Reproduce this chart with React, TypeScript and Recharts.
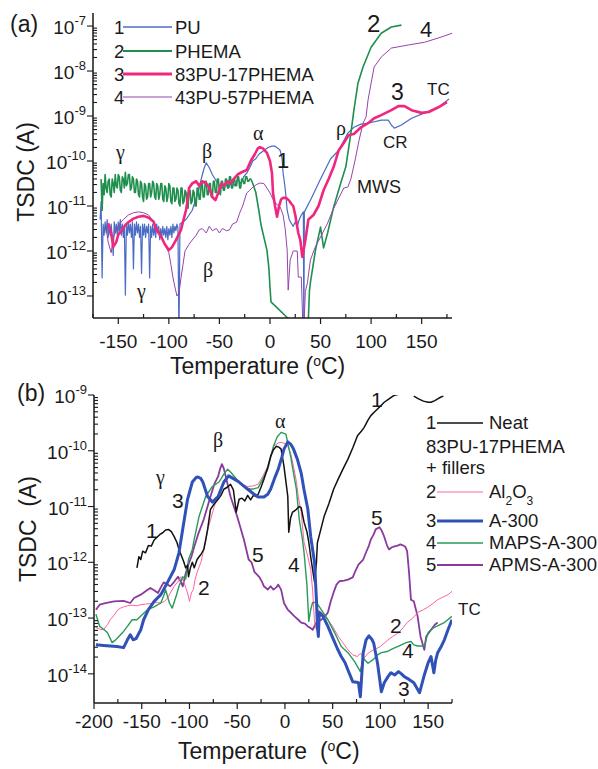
import React from 'react';
import { LineChart, Line, XAxis, YAxis } from 'recharts';

type Pt = [number, number | null];

// values are [temperature °C, log10 of TSDC current in A]

// ---- panel (a) ----
const puA: Pt[] = [
  [-168, -11.3], [-167, -10.9], [-166, -12.6], [-165, -11.4], [-164, -11.65], [-163, -11.35], [-162, -11.6],
  [-161, -11.3], [-160, -11.7], [-159, -11.45], [-158, -11.65], [-157, -11.4], [-156, -11.7], [-155, -12.1],
  [-154, -11.35], [-153, -11.6], [-152, -11.4], [-151, -11.65], [-150, -11.35], [-149, -11.6], [-148, -11.3],
  [-147, -11.65], [-146, -11.4], [-145, -11.7], [-144, -11.45], [-143, -12.98], [-142, -11.4], [-141, -11.65],
  [-140, -11.35], [-139, -11.6], [-138, -11.4], [-137, -11.7], [-136, -11.35], [-135, -12.4], [-134, -11.4],
  [-133, -11.65], [-132, -11.35], [-131, -11.6], [-130, -11.4], [-129, -11.7], [-128, -11.45], [-127, -12.5],
  [-126, -11.4], [-125, -11.65], [-124, -11.4], [-123, -11.7], [-122, -11.45], [-121, -11.6], [-120, -11.4],
  [-119, -12.6], [-118, -11.45], [-117, -11.7], [-116, -11.4], [-115, -11.65], [-114, -11.45], [-113, -11.7],
  [-112, -11.4], [-111, -11.6], [-110, -11.45], [-109, -11.75], [-108, -11.5], [-107, -11.7], [-106, -11.45],
  [-105, -11.65], [-104, -11.5], [-103, -11.7], [-102, -11.45], [-101, -11.75], [-100, -11.5], [-99, -11.65],
  [-98, -11.45], [-97, -11.7], [-96, -11.4], [-95, -11.6], [-94, -11.45], [-93, -11.55], [-92, -11.4],
  [-91, -11.5], [-90, -14], [-89, -11.4], [-86, -11.35], [-83, -11.3], [-80, -11.2], [-77, -11.1], [-74, -10.9],
  [-71, -10.7], [-68, -10.4], [-65, -10.15], [-63, -10.04], [-60, -10.15], [-57, -10.3], [-53, -10.45],
  [-50, -10.55], [-47, -10.6], [-44, -10.5], [-41, -10.6], [-38, -10.45], [-35, -10.55], [-32, -10.4],
  [-29, -10.5], [-26, -10.35], [-23, -10.27], [-20, -10.15], [-17, -10.0], [-14, -9.95], [-11, -9.85],
  [-8, -9.8], [-5, -9.75], [-2, -9.7], [2, -9.67], [5, -9.67], [8, -9.72], [10, -9.76], [12, -9.95],
  [13, -10.27], [15, -10.6], [17, -11.09], [19, -11.3], [21, -11.38], [23, -11.45], [25, -11.35], [27, -11.45],
  [29, -11.3], [31, -11.2], [33, -11.13], [33.5, -14], [34, -11.13], [40, -10.87], [50, -10.4], [60, -9.95],
  [68, -9.76], [77, -9.38], [83, -9.25], [90, -9.18], [97, -9.16], [110, -9.09], [117, -9.09], [120, -9.2],
  [123, -9.27], [130, -9.2], [140, -9.05], [153, -8.93], [167, -8.8], [177, -8.62],
];

const phemaA: Pt[] = [
  [-167, -10.4], [-166, -11.1], [-165, -10.5], [-164, -10.75], [-163, -10.3], [-162, -10.6], [-161, -10.7],
  [-160, -10.45], [-159, -10.4], [-158, -10.75], [-157, -10.8], [-156, -10.4], [-155, -10.5], [-154, -10.7],
  [-153, -10.3], [-152, -10.55], [-151, -10.6], [-150, -10.3], [-149, -10.35], [-148, -10.65], [-147, -10.7],
  [-146, -10.35], [-145, -10.4], [-144, -10.6], [-143, -10.25], [-142, -10.55], [-141, -10.5], [-140, -10.3],
  [-139, -10.3], [-138, -10.65], [-137, -10.6], [-136, -10.35], [-135, -10.4], [-134, -10.7], [-133, -10.7],
  [-132, -10.4], [-131, -10.45], [-130, -10.75], [-129, -10.8], [-128, -10.45], [-127, -10.5], [-126, -10.8],
  [-125, -10.9], [-124, -10.5], [-123, -10.55], [-122, -10.85], [-121, -10.8], [-120, -10.5], [-119, -10.5],
  [-118, -10.8], [-117, -10.7], [-116, -10.45], [-115, -10.5], [-114, -10.8], [-113, -10.85], [-112, -10.5],
  [-111, -10.55], [-110, -10.85], [-109, -10.75], [-108, -10.5], [-107, -10.5], [-106, -10.85], [-105, -10.9],
  [-104, -10.55], [-103, -10.6], [-102, -10.9], [-101, -10.8], [-100, -10.5], [-99, -10.55], [-98, -10.9],
  [-97, -10.95], [-96, -10.6], [-95, -10.6], [-94, -10.9], [-93, -10.85], [-92, -10.6], [-91, -10.65],
  [-90, -10.95], [-89, -11.0], [-88, -10.6], [-87, -10.6], [-86, -10.95], [-85, -10.9], [-84, -10.65],
  [-83, -10.7], [-82, -11.0], [-81, -11.05], [-80, -10.65], [-79, -10.65], [-78, -10.95], [-77, -10.9],
  [-76, -10.65], [-75, -10.7], [-74, -11.0], [-73, -11.0], [-72, -10.6], [-71, -10.6], [-70, -10.85],
  [-69, -10.85], [-68, -10.5], [-67, -10.5], [-66, -10.8], [-65, -10.8], [-64, -10.45], [-63, -10.45],
  [-62, -10.75], [-61, -10.75], [-60, -10.5], [-59, -10.5], [-58, -10.8], [-57, -10.8], [-56, -10.45],
  [-55, -10.45], [-54, -10.7], [-53, -10.7], [-52, -10.4], [-51, -10.4], [-50, -10.7], [-49, -10.75],
  [-48, -10.45], [-47, -10.45], [-46, -10.65], [-45, -10.65], [-44, -10.4], [-43, -10.4], [-42, -10.6],
  [-41, -10.6], [-40, -10.35], [-39, -10.35], [-38, -10.6], [-37, -10.6], [-36, -10.4], [-35, -10.4],
  [-34, -10.55], [-33, -10.55], [-32, -10.35], [-31, -10.35], [-30, -10.6], [-29, -10.6], [-28, -10.4],
  [-27, -10.4], [-26, -10.5], [-25, -10.5], [-24, -10.35], [-23, -10.35], [-22, -10.45], [-21, -10.45],
  [-20, -10.4], [-19, -10.4], [-17, -10.5], [-14, -10.7], [-11, -11.1], [-9, -11.4], [-7, -11.6], [-3, -11.98],
  [-1, -12.4], [0, -12.8], [1, -13.13], [18, -13.5], [19, -14], [37, -14], [38, -13.5], [39, -12.9], [40, -12.7],
  [45, -11.98], [50, -11.47], [53, -11.93], [57, -11.6], [63, -11.02], [70, -10.49], [75, -10.13], [80, -9.38],
  [83, -8.87], [87, -8.27], [92, -7.91], [100, -7.47], [110, -7.16], [120, -7.02], [130, -6.98],
];

const blend83A: Pt[] = [
  [-160, -11.38], [-157, -11.6], [-155, -11.91], [-152, -11.8], [-150, -11.64], [-147, -11.55], [-143, -11.42],
  [-140, -11.36], [-135, -11.28], [-130, -11.24], [-125, -11.22], [-120, -11.26], [-115, -11.35], [-113, -11.5],
  [-110, -11.6], [-107, -11.71], [-104, -11.85], [-100, -11.98], [-97, -11.92], [-93, -11.76], [-88, -11.53],
  [-83, -11.09], [-82, -10.95], [-80, -10.6], [-77, -10.5], [-73, -10.45], [-70, -10.55], [-67, -10.45],
  [-63, -10.5], [-60, -10.6], [-57, -10.8], [-54, -10.87], [-51, -10.7], [-48, -10.5], [-45, -10.55],
  [-42, -10.45], [-39, -10.5], [-36, -10.4], [-32, -10.3], [-28, -10.25], [-23, -10.2], [-19, -10.0],
  [-15, -9.85], [-12, -9.72], [-10, -9.69], [-7, -9.72], [-3, -9.82], [0, -10.0], [2, -10.27], [3, -10.71],
  [5, -11.0], [7, -11.24], [9, -11.0], [11, -10.85], [13, -10.82], [16, -10.82], [19, -10.88], [21, -10.95],
  [23, -11.0], [25, -11.2], [28, -11.6], [30, -11.76], [32, -12.13], [35, -11.76], [38, -11.3], [43, -11.2],
  [48, -11.0], [53, -10.65], [58, -10.4], [63, -10.13], [68, -9.76], [73, -9.6], [78, -9.42], [83, -9.4],
  [90, -9.25], [97, -9.16], [103, -9.05], [110, -8.98], [120, -8.87], [127, -8.78], [133, -8.78], [140, -8.87],
  [150, -8.93], [157, -8.91], [167, -8.8], [175, -8.69],
];

const blend43A: Pt[] = [
  [-162, -11.5], [-160, -11.8], [-157, -12.04], [-155, -11.7], [-152, -11.55], [-149, -11.4], [-145, -11.3],
  [-140, -11.2], [-135, -11.15], [-130, -11.13], [-125, -11.15], [-120, -11.2], [-115, -11.35], [-110, -11.55],
  [-106, -11.75], [-103, -11.9], [-100, -12.04], [-98, -12.3], [-96, -12.58], [-94, -12.8], [-92, -13.0],
  [-90, -12.93], [-88, -12.6], [-86, -12.3], [-84, -12.0], [-80, -11.85], [-77, -11.76], [-73, -11.65],
  [-70, -11.53], [-67, -11.5], [-63, -11.6], [-60, -11.45], [-57, -11.55], [-53, -11.5], [-50, -11.6],
  [-47, -11.5], [-43, -11.55], [-40, -11.53], [-37, -11.4], [-33, -11.36], [-30, -11.16], [-27, -11.0],
  [-23, -10.71], [-20, -10.65], [-17, -10.58], [-13, -10.52], [-10, -10.49], [-6, -10.5], [-3, -10.6],
  [0, -10.71], [3, -10.85], [6, -10.95], [10, -11.02], [13, -11.2], [15, -11.5], [17, -11.98], [18, -12.87],
  [20, -12.2], [23, -12.0], [27, -12.0], [28, -12.58], [31, -12.58], [33, -14], [35, -12.9], [37, -12.71],
  [40, -12.2], [45, -11.9], [50, -11.69], [57, -11.38], [62, -11.1], [67, -10.87], [73, -10.6], [77, -10.58],
  [80, -10.4], [84, -10.0], [88, -9.55], [92, -9.16], [95, -9.02], [97, -8.64], [100, -8.27], [103, -7.91],
  [110, -7.69], [120, -7.49], [137, -7.42], [153, -7.36], [170, -7.24], [180, -7.16],
];

// ---- panel (b) ----
const neatB: Pt[] = [
  [-155, -12.1], [-153, -11.9], [-151, -11.95], [-149, -11.8], [-146, -11.83], [-143, -11.7], [-140, -11.71],
  [-137, -11.6], [-134, -11.55], [-131, -11.5], [-128, -11.47], [-125, -11.42], [-122, -11.41], [-119, -11.45],
  [-116, -11.54], [-113, -11.65], [-111, -11.77], [-108, -11.9], [-106, -11.99], [-104, -12.1], [-102, -12.05],
  [-101, -12.26], [-99, -12.1], [-97, -12.0], [-95, -12.1], [-92, -11.95], [-90, -11.9], [-88, -11.86],
  [-85, -11.77], [-83, -11.6], [-81, -11.41], [-78, -11.05], [-74, -10.95], [-70, -10.87], [-67, -10.8],
  [-64, -10.69], [-60, -10.65], [-57, -10.6], [-54, -10.7], [-51, -11.1], [-48, -10.87], [-45, -10.85],
  [-42, -10.9], [-39, -10.8], [-36, -10.88], [-33, -10.8], [-30, -10.82], [-28, -10.78], [-25, -10.65],
  [-22, -10.51], [-18, -10.3], [-15, -10.1], [-12, -9.98], [-9, -9.92], [-6, -9.94], [-4, -9.97], [-1, -10.28],
  [1, -10.55], [3, -10.82], [4, -11.46], [6, -11.2], [8, -11.1], [10, -11.08], [12, -11.05], [15, -11.0],
  [17, -11.02], [20, -11.28], [23, -11.45], [25, -11.64], [27, -11.9], [29, -12.13], [31, -12.35], [33, -12.0],
  [34, -11.65], [37, -11.45], [41, -11.18], [46, -10.95], [51, -10.69], [56, -10.5], [61, -10.32], [66, -10.15],
  [71, -9.95], [76, -9.73], [80, -9.65], [83, -9.58], [87, -9.45], [90, -9.37], [94, -9.3], [97, -9.25],
  [100, -9.2], [104, -9.13], [109, -9.07], [114, -9.01], [118, -8.99], [121, -8.98], [125, -8.98], [130, null],
  [135, -9.02], [140, -9.07], [145, -9.11], [150, -9.13], [153, -9.13], [157, -9.1], [160, -9.07], [163, -9.04],
  [166, -9.02],
];

const al2o3B: Pt[] = [
  [-198, -13.17], [-194, -13.2], [-190, -13.21], [-186, -13.12], [-183, -13.03], [-179, -12.95], [-175, -12.85],
  [-172, -12.82], [-169, -12.8], [-165, -12.78], [-160, -12.77], [-155, -12.78], [-151, -12.76], [-146, -12.75],
  [-141, -12.74], [-136, -12.72], [-130, -12.73], [-126, -12.7], [-123, -12.64], [-120, -12.55], [-116, -12.43],
  [-112, -12.35], [-109, -12.26], [-106, -12.35], [-104, -12.45], [-102, -12.55], [-100, -12.7], [-98, -12.55],
  [-96, -12.49], [-94, -12.3], [-92, -12.18], [-88, -12.0], [-85, -11.77], [-80, -11.36], [-74, -11.0],
  [-67, -10.69], [-60, -10.46], [-53, -10.51], [-46, -10.6], [-39, -10.64], [-33, -10.63], [-28, -10.6],
  [-23, -10.45], [-18, -10.28], [-12, -9.92], [-7, -9.86], [-4, -9.85], [0, -9.87], [3, -9.92], [6, -10.05],
  [9, -10.28], [12, -10.55], [14, -10.82], [17, -11.1], [20, -11.64], [24, -11.9], [27, -12.13], [29, -12.5],
  [31, -13.08], [33, -13.21], [35, -12.85], [38, -12.9], [41, -12.95], [45, -13.03], [50, -13.15], [56, -13.33],
  [61, -13.45], [66, -13.57], [71, -13.66], [76, -13.69], [79, -13.63], [83, -13.72], [86, -13.65], [88, -13.62],
  [93, -13.57], [100, -13.51], [108, -13.39], [113, -13.33], [119, -13.26], [124, -13.17], [128, -13.08],
  [134, -13.0], [139, -12.9], [145, -12.85], [150, -12.8], [155, -12.74], [160, -12.67], [166, -12.62],
  [171, -12.58], [175, -12.52],
];

const a300B: Pt[] = [
  [-198, -13.48], [-190, -13.49], [-183, -13.5], [-176, -13.51], [-169, -13.53], [-165, -13.39], [-162, -13.3],
  [-159, -13.39], [-156, -13.37], [-151, -13.21], [-148, -13.03], [-143, -12.85], [-137, -12.7], [-130, -12.58],
  [-123, -12.36], [-116, -12.13], [-111, -11.83], [-107, -11.4], [-102, -10.87], [-97, -10.56], [-93, -10.48],
  [-91, -10.47], [-88, -10.5], [-86, -10.56], [-81, -10.82], [-76, -10.92], [-70, -10.82], [-64, -10.56],
  [-59, -10.45], [-54, -10.5], [-49, -10.55], [-44, -10.62], [-39, -10.69], [-33, -10.77], [-28, -10.83],
  [-22, -10.83], [-18, -10.78], [-15, -10.69], [-11, -10.5], [-7, -10.33], [-3, -10.1], [-1, -9.97], [3, -9.84],
  [6, -9.88], [9, -9.97], [13, -10.15], [17, -10.4], [20, -10.7], [24, -11.05], [27, -11.54], [31, -12.0],
  [33, -12.67], [34, -13.15], [35, -13.33], [36, -12.9], [40, -12.97], [45, -13.15], [51, -13.39], [55, -13.55],
  [59, -13.69], [63, -13.8], [66, -13.93], [71, -14.14], [75, -14.15], [77, -14.16], [79, -14.41], [82, -13.62],
  [85, -13.39], [88, -13.32], [91, -13.38], [93, -13.45], [97, -13.81], [101, -14.32], [104, -14.16],
  [108, -14.05], [111, -13.98], [115, -14.02], [119, -13.96], [122, -14.0], [125, -14.05], [130, -14.1],
  [135, -14.16], [138, -14.25], [141, -14.34], [146, -14.02], [150, -13.8], [153, -13.69], [156, -13.98],
  [158, -13.75], [160, -13.62], [164, -13.5], [167, -13.39], [171, -13.2], [175, -13.03],
];

const mapsB: Pt[] = [
  [-198, -12.93], [-194, -13.15], [-190, -13.2], [-186, -13.26], [-181, -13.44], [-178, -13.4], [-175, -13.35],
  [-170, -13.26], [-165, -13.15], [-160, -13.03], [-155, -13.03], [-152, -12.98], [-149, -12.93], [-144, -12.85],
  [-137, -12.8], [-130, -12.73], [-127, -12.6], [-125, -12.49], [-121, -12.73], [-118, -12.82], [-114, -12.61],
  [-111, -12.43], [-107, -12.26], [-104, -12.3], [-101, -11.95], [-97, -11.77], [-95, -11.59], [-90, -11.18],
  [-83, -10.82], [-76, -10.64], [-69, -10.56], [-64, -10.42], [-60, -10.33], [-57, -10.38], [-53, -10.46],
  [-46, -10.6], [-41, -10.66], [-36, -10.69], [-32, -10.68], [-28, -10.66], [-23, -10.5], [-18, -10.33],
  [-12, -9.92], [-8, -9.75], [-4, -9.67], [1, -9.7], [6, -10.1], [9, -10.4], [12, -10.69], [15, -11.23],
  [18, -11.55], [20, -11.82], [23, -12.4], [25, -13.06], [27, -12.85], [29, -12.72], [33, -12.72], [38, -12.85],
  [45, -13.03], [52, -13.26], [59, -13.51], [66, -13.62], [73, -13.78], [79, -13.96], [82, -13.72], [87, -13.81],
  [92, -13.75], [97, -13.66], [101, -13.62], [107, -13.6], [113, -13.55], [118, -13.51], [127, -13.44],
  [132, -13.42], [135, -13.48], [139, -13.5], [146, -13.5], [150, -13.26], [156, -13.17], [162, -13.12],
  [167, -13.08], [175, -12.97],
];

const apmsB: Pt[] = [
  [-198, -12.85], [-194, -12.76], [-188, -12.73], [-179, -12.7], [-169, -12.69], [-162, -12.73], [-158, -12.64],
  [-151, -12.58], [-146, -12.52], [-141, -12.46], [-137, -12.5], [-133, -12.55], [-130, -12.45], [-127, -12.36],
  [-123, -12.4], [-120, -12.43], [-116, -12.35], [-112, -12.26], [-109, -12.35], [-107, -12.43], [-104, -12.2],
  [-102, -12.08], [-98, -11.9], [-95, -11.72], [-91, -11.5], [-85, -11.23], [-78, -10.82], [-74, -10.6],
  [-70, -10.46], [-68, -10.33], [-66, -10.24], [-64, -10.32], [-62, -10.46], [-57, -10.82], [-50, -11.18],
  [-43, -11.59], [-38, -11.95], [-35, -12.0], [-32, -12.17], [-27, -12.26], [-24, -12.35], [-22, -12.43],
  [-18, -12.49], [-15, -12.43], [-12, -12.49], [-9, -12.45], [-7, -12.4], [-4, -12.49], [-1, -12.73],
  [3, -12.85], [6, -12.9], [10, -12.97], [14, -13.03], [17, -13.08], [21, -13.1], [24, -13.15], [27, -13.18],
  [29, -13.21], [33, -13.08], [38, -13.03], [42, -12.97], [45, -12.9], [48, -12.7], [51, -12.54], [54, -12.4],
  [57, -12.34], [62, -12.33], [66, -12.31], [71, -12.27], [74, -12.15], [77, -12.04], [82, -11.95], [85, -11.82],
  [88, -11.7], [90, -11.59], [93, -11.5], [95, -11.41], [99, -11.37], [101, -11.42], [104, -11.54], [107, -11.7],
  [109, -11.77], [112, -11.73], [114, -11.72], [118, -11.7], [121, -11.68], [124, -11.7], [126, -11.72],
  [128, -11.8], [130, -12.18], [132, -12.67], [135, -12.7], [139, -12.97], [142, -13.33], [146, -13.57],
  [148, -13.33], [153, -13.21], [157, -13.12], [160, -13.08],
];

const xTicksA = [-175, -150, -125, -100, -75, -50, -25, 0, 25, 50, 75, 100, 125, 150, 175];
const xTicksB = [-200, -175, -150, -125, -100, -75, -50, -25, 0, 25, 50, 75, 100, 125, 150, 175];
const decadesA = [-13, -12, -11, -10, -9, -8, -7];
const decadesB = [-14, -13, -12, -11, -10, -9];

const INK = '#1a1a1a';
const SANS = '"Liberation Sans", Arial, sans-serif';
const SERIF = '"Liberation Serif", "Times New Roman", serif';

const C = {
  pu: '#4a6cc4',
  phema: '#1f8f4e',
  b83: '#f0287d',
  b43: '#9544ad',
  neat: '#111111',
  al: '#ff62a2',
  a300: '#3052b8',
  maps: '#2a9a58',
  apms: '#8a3a9e',
};

const toRows = (pts: Pt[]) => pts.map(([T, lg]) => ({ T, I: lg === null ? null : Math.pow(10, lg) }));

const logTicks = (decs: number[], lo: number, hi: number) => {
  const out: number[] = [];
  decs.forEach((d) => {
    for (let m = 1; m < 10; m++) {
      const v = m * Math.pow(10, d);
      if (v >= lo && v <= hi) out.push(v);
    }
  });
  return out;
};

const XTick = (props: any) => {
  const { x, y, payload, off } = props;
  const major = payload.value % 50 === 0;
  return (
    <g>
      <line x1={x} x2={x} y1={y} y2={major ? y + 6 : y - 4} stroke={INK} strokeWidth={1.2} />
      {major && (
        <text x={x} y={y + off} textAnchor="middle" fontSize={19} fill={INK} fontFamily={SANS}>
          {payload.value}
        </text>
      )}
    </g>
  );
};

const YTick = (props: any) => {
  const { x, y, payload } = props;
  const lg = Math.log10(payload.value);
  const major = Math.abs(lg - Math.round(lg)) < 1e-6;
  return (
    <g>
      <line x1={major ? x - 6 : x} x2={major ? x : x + 4} y1={y} y2={y} stroke={INK} strokeWidth={1.1} />
      {major && (
        <text x={x - 7} y={y + 8} textAnchor="end" fontSize={19} fill={INK} fontFamily={SANS}>
          10<tspan dy={-9} fontSize={13}>{Math.round(lg)}</tspan>
        </text>
      )}
    </g>
  );
};

const axisLine = { stroke: INK, strokeWidth: 1.5 };

const domA: [number, number] = [3.24e-14, 1.95e-7];
const domB: [number, number] = [3.0e-15, 1e-9];

const seriesA = [
  { pts: puA, color: C.pu, w: 1.2 },
  { pts: phemaA, color: C.phema, w: 1.6 },
  { pts: blend43A, color: C.b43, w: 1 },
  { pts: blend83A, color: C.b83, w: 2.6 },
];

const seriesB = [
  { pts: apmsB, color: C.apms, w: 1.8 },
  { pts: al2o3B, color: C.al, w: 1 },
  { pts: mapsB, color: C.maps, w: 1.4 },
  { pts: neatB, color: C.neat, w: 1.5 },
  { pts: a300B, color: C.a300, w: 3 },
];

const Panel = ({ series, xDom, xTicks, yDom, decades, top, height, mTop, xH, yW, off }: any) => (
  <div style={{ position: 'absolute', left: 0, top }}>
    <LineChart width={598} height={height} margin={{ top: mTop, right: 146, bottom: 0, left: 0 }}>
      <XAxis
        type="number"
        dataKey="T"
        domain={xDom}
        ticks={xTicks}
        interval={0}
        allowDataOverflow
        tickLine={false}
        tickSize={0}
        tickMargin={0}
        height={xH}
        axisLine={axisLine}
        tick={(p: any) => <XTick {...p} off={off} />}
      />
      <YAxis
        type="number"
        scale="log"
        domain={yDom}
        ticks={logTicks(decades, yDom[0], yDom[1])}
        interval={0}
        allowDataOverflow
        tickLine={false}
        tickSize={0}
        tickMargin={0}
        width={yW}
        axisLine={axisLine}
        tick={(p: any) => <YTick {...p} />}
      />
      {series.map((s: any, i: number) => (
        <Line
          key={i}
          data={toRows(s.pts)}
          dataKey="I"
          stroke={s.color}
          strokeWidth={s.w}
          dot={false}
          activeDot={false}
          isAnimationActive={false}
          connectNulls={false}
          strokeLinejoin="round"
        />
      ))}
    </LineChart>
  </div>
);

const legendA = [
  { n: '1', label: 'PU', color: C.pu, w: 1.3, y: 27 },
  { n: '2', label: 'PHEMA', color: C.phema, w: 1.8, y: 51 },
  { n: '3', label: '83PU-17PHEMA', color: C.b83, w: 3, y: 74 },
  { n: '4', label: '43PU-57PHEMA', color: C.b43, w: 1, y: 97 },
];

const legendB = [
  { n: '1', label: 'Neat', color: C.neat, w: 1.5, y: 423 },
  { n: '2', label: 'Al2O3', color: C.al, w: 1, y: 492 },
  { n: '3', label: 'A-300', color: C.a300, w: 3, y: 521 },
  { n: '4', label: 'MAPS-A-300', color: C.maps, w: 1.4, y: 543 },
  { n: '5', label: 'APMS-A-300', color: C.apms, w: 1.8, y: 565 },
];

const T = ({ x, y, s = 21, serif = false, children }: any) => (
  <text x={x} y={y} fontSize={s} fill={INK} fontFamily={serif ? SERIF : SANS}>
    {children}
  </text>
);

const Overlay = () => (
  <svg width={598} height={769} style={{ position: 'absolute', left: 0, top: 0, pointerEvents: 'none' }}>
    {/* panel labels and axis titles */}
    <T x={10} y={32} s={23}>(a)</T>
    <T x={17} y={401} s={23}>(b)</T>
    <text x={170} y={374} fontSize={23} fill={INK} fontFamily={SANS}>
      Temperature (<tspan dy={-8} fontSize={14}>o</tspan><tspan dy={8}>C)</tspan>
    </text>
    <text x={178} y={759} fontSize={23} fill={INK} fontFamily={SANS} style={{ whiteSpace: 'pre' }}>
      Temperature  (<tspan dy={-8} fontSize={14}>o</tspan><tspan dy={8}>C)</tspan>
    </text>
    <text x={34} y={172} fontSize={23} fill={INK} fontFamily={SANS} textAnchor="middle" transform="rotate(-90 34 172)">
      TSDC (A)
    </text>
    <text x={36} y={529} fontSize={23} fill={INK} fontFamily={SANS} textAnchor="middle" transform="rotate(-90 36 529)" style={{ whiteSpace: 'pre' }}>
      TSDC  (A)
    </text>

    {/* legend (a) */}
    {legendA.map((e) => (
      <g key={e.n}>
        <T x={114} y={e.y + 7} s={18.5}>{e.n}</T>
        <line x1={123} x2={172} y1={e.y} y2={e.y} stroke={e.color} strokeWidth={e.w} />
        <T x={175} y={e.y + 7} s={18.5}>{e.label}</T>
      </g>
    ))}

    {/* annotations (a) */}
    <T x={116} y={159} s={20} serif>γ</T>
    <T x={202} y={158} s={20} serif>β</T>
    <T x={253} y={140} s={20} serif>α</T>
    <T x={277} y={168} s={22}>1</T>
    <T x={336} y={135} s={20} serif>ρ</T>
    <T x={367} y={32} s={24}>2</T>
    <T x={420} y={37} s={22}>4</T>
    <T x={391} y={100} s={23}>3</T>
    <T x={427} y={95} s={17}>TC</T>
    <T x={383} y={148} s={17}>CR</T>
    <T x={357} y={193} s={18}>MWS</T>
    <T x={203} y={277} s={20} serif>β</T>
    <T x={137} y={298} s={20} serif>γ</T>

    {/* legend (b) */}
    {legendB.map((e) => (
      <g key={e.n}>
        <T x={426} y={e.y + 6} s={18.5}>{e.n}</T>
        <line x1={437} x2={483} y1={e.y} y2={e.y} stroke={e.color} strokeWidth={e.w} />
        {e.label === 'Al2O3' ? (
          <text x={489} y={e.y + 6} fontSize={18.5} fill={INK} fontFamily={SANS}>
            Al<tspan dy={7} fontSize={12}>2</tspan><tspan dy={-7}>O</tspan><tspan dy={7} fontSize={12}>3</tspan>
          </text>
        ) : (
          <T x={489} y={e.y + 6} s={18.5}>{e.label}</T>
        )}
      </g>
    ))}
    <T x={426} y={453} s={18.5}>83PU-17PHEMA</T>
    <T x={426} y={474} s={18.5}>+ fillers</T>

    {/* annotations (b) */}
    <T x={156} y={484} s={20} serif>γ</T>
    <T x={172} y={508} s={21}>3</T>
    <T x={213} y={447} s={20} serif>β</T>
    <T x={275} y={428} s={20} serif>α</T>
    <T x={146} y={538} s={21}>1</T>
    <T x={252} y={562} s={21}>5</T>
    <T x={288} y={572} s={21}>4</T>
    <T x={198} y={595} s={21}>2</T>
    <T x={371} y={407} s={21}>1</T>
    <T x={371} y={525} s={21}>5</T>
    <T x={458} y={615} s={17}>TC</T>
    <T x={390} y={633} s={21}>2</T>
    <T x={402} y={658} s={21}>4</T>
    <T x={398} y={696} s={21}>3</T>
  </svg>
);

export default function App() {
  return (
    <div style={{ position: 'absolute', left: 0, top: 0, width: 598, height: 769, background: '#fff' }}>
      <Panel
        series={seriesA}
        xDom={[-175, 180]}
        xTicks={xTicksA}
        yDom={domA}
        decades={decadesA}
        top={0}
        height={380}
        mTop={13}
        xH={62}
        yW={93}
        off={30}
      />
      <Panel
        series={seriesB}
        xDom={[-200, 175]}
        xTicks={xTicksB}
        yDom={domB}
        decades={decadesB}
        top={380}
        height={389}
        mTop={15}
        xH={66}
        yW={94}
        off={25}
      />
      <Overlay />
    </div>
  );
}
